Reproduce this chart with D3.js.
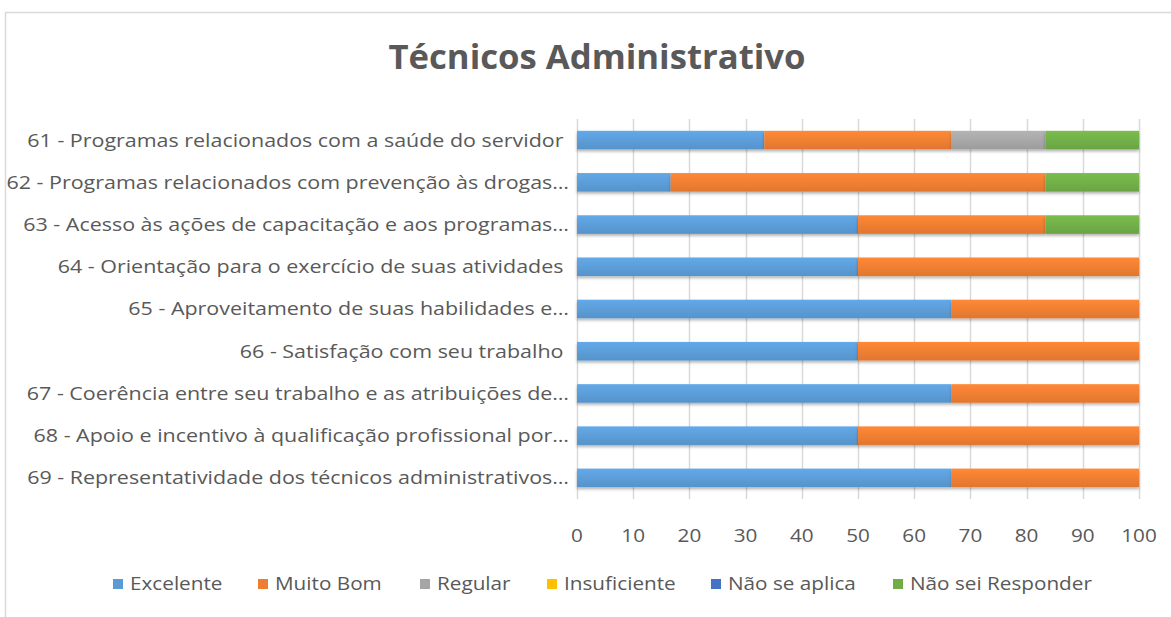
<!DOCTYPE html>
<html>
<head>
<meta charset="utf-8">
<script src="https://cdn.jsdelivr.net/npm/d3@7"></script>
<style>
  body { margin: 0; background: #fff; }
  svg { display: block; font-family: "Open Sans", sans-serif; }
  text { white-space: pre; }
</style>
</head>
<body>
<svg id="chart" width="1171" height="617"></svg>
<script>
const categories = [
    '61 - Programas relacionados com a saúde do servidor ',
    '62 - Programas relacionados com prevenção às drogas…',
    '63 - Acesso às ações de capacitação e aos programas…',
    '64 - Orientação para o exercício de suas atividades ',
    '65 - Aproveitamento de suas habilidades e…',
    '66 - Satisfação com seu trabalho ',
    '67 - Coerência entre seu trabalho e as atribuições de…',
    '68 - Apoio e incentivo à qualificação profissional por…',
    '69 - Representatividade dos técnicos administrativos…'
]
const seriesNames = ['Excelente', 'Muito Bom', 'Regular', 'Insuficiente', 'Não se aplica', 'Não sei Responder']
const seriesColors = ['#5B9BD5', '#ED7D31', '#A5A5A5', '#FFC000', '#4472C4', '#70AD47']

// percentages per series, one value per category
const excelente    = [33.33, 16.67, 50, 50, 66.67, 50, 66.67, 50, 66.67]
const muitoBom     = [33.33, 66.67, 33.33, 50, 33.33, 50, 33.33, 50, 33.33]
const regular      = [16.67, 0, 0, 0, 0, 0, 0, 0, 0]
const insuficiente = [0, 0, 0, 0, 0, 0, 0, 0, 0]
const naoSeAplica  = [0, 0, 0, 0, 0, 0, 0, 0, 0]
const naoSei       = [16.67, 16.67, 16.67, 0, 0, 0, 0, 0, 0]
const xTicks = [0, 10, 20, 30, 40, 50, 60, 70, 80, 90, 100]

const seriesValues = [excelente, muitoBom, regular, insuficiente, naoSeAplica, naoSei]

const svg = d3.select('#chart')
const textColor = '#595959'
const FONT_SIZE = 18.5
const STRETCH = 1.12 // the original font is a bit wider than Open Sans
const LABEL_STRETCH = 1.16

// chart border
svg.append('path')
    .attr('d', 'M5.5,617 L5.5,12.5 L1171,12.5')
    .attr('fill', 'none')
    .attr('stroke', '#d9d9d9')
    .attr('stroke-width', 1.5)

// title
svg.append('text')
    .attr('x', 597)
    .attr('y', 69)
    .attr('text-anchor', 'middle')
    .attr('font-size', 34.7)
    .attr('font-weight', 'bold')
    .attr('fill', textColor)
    .text('Técnicos Administrativo')

const margin = { left: 577, right: 1139, top: 119, bottom: 499 }

const x = d3.scaleLinear().domain([0, 100]).range([margin.left, margin.right])
const y = d3.scaleBand().domain(categories).range([margin.top, margin.bottom]).paddingInner(0.56).paddingOuter(0.28)

// gradients and shadow
const defs = svg.append('defs')
seriesColors.forEach((c, i) => {
    const g = defs.append('linearGradient').attr('id', 'grad' + i)
        .attr('x1', 0).attr('y1', 0).attr('x2', 0).attr('y2', 1)
    g.append('stop').attr('offset', '0%').attr('stop-color', d3.color(c).brighter(0.25))
    g.append('stop').attr('offset', '100%').attr('stop-color', d3.color(c).darker(0.15))
})
const shadow = defs.append('filter').attr('id', 'shadow').attr('x', '-5%').attr('y', '-20%').attr('width', '110%').attr('height', '160%')
shadow.append('feDropShadow').attr('dx', 0).attr('dy', 2).attr('stdDeviation', 1.5).attr('flood-color', '#000').attr('flood-opacity', 0.3)

// grid
svg.append('g').selectAll('line').data(xTicks).join('line')
    .attr('x1', d => Math.round(x(d)) + 0.5)
    .attr('x2', d => Math.round(x(d)) + 0.5)
    .attr('y1', margin.top)
    .attr('y2', margin.bottom)
    .attr('stroke', '#d9d9d9')
    .attr('stroke-width', 1.5)

// stacked bars
const stackData = categories.map((c, i) => {
    const row = { category: c }
    seriesNames.forEach((s, j) => { row[s] = seriesValues[j][i] })
    return row
})
const stacked = d3.stack().keys(seriesNames)(stackData)

svg.append('g').selectAll('g').data(stacked).join('g')
    .attr('fill', (d, i) => `url(#grad${i})`)
    .attr('filter', 'url(#shadow)')
    .selectAll('rect').data(d => d.filter(p => p[1] - p[0] > 0)).join('rect')
    .attr('x', d => x(d[0]))
    .attr('width', d => x(d[1]) - x(d[0]))
    .attr('y', d => y(d.data.category))
    .attr('height', y.bandwidth())

// stretched text helper
const stretchedText = (sel, tx, ty, k = STRETCH) => sel
    .attr('transform', (d, i) => `translate(${tx(d, i)},${ty(d, i)}) scale(${k},1)`)
    .attr('dy', '0.35em')
    .attr('font-size', FONT_SIZE)
    .attr('fill', textColor)

// category labels
svg.append('g').selectAll('text').data(categories).join('text')
    .call(stretchedText, () => 569, d => y(d) + y.bandwidth() / 2, LABEL_STRETCH)
    .attr('text-anchor', 'end')
    .text(d => d)

// x tick labels
svg.append('g').selectAll('text').data(xTicks).join('text')
    .call(stretchedText, d => x(d), () => 536)
    .attr('text-anchor', 'middle')
    .text(d => d)

// legend
const legendX = [113, 258, 420, 547, 711, 893]
const legend = svg.append('g').selectAll('g').data(seriesNames).join('g')
    .attr('transform', (d, i) => `translate(${legendX[i]},584)`)
legend.append('rect')
    .attr('x', 0).attr('y', -5).attr('width', 10).attr('height', 10)
    .attr('fill', (d, i) => seriesColors[i])
legend.append('text')
    .call(stretchedText, () => 17, () => 0)
    .text(d => d)
</script>
</body>
</html>
